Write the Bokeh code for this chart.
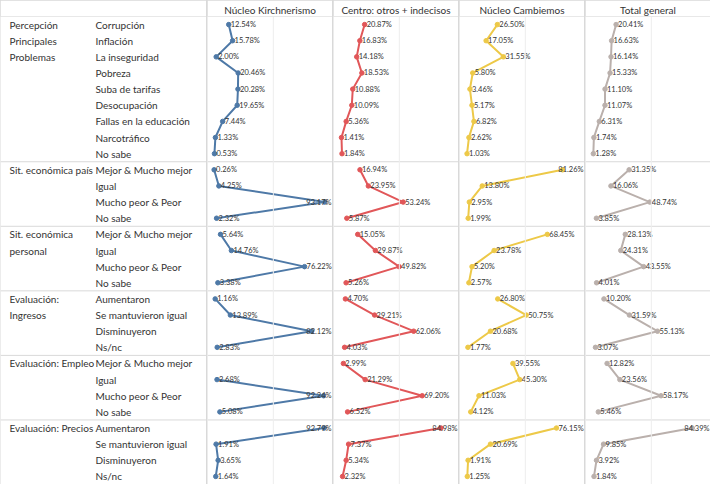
from bokeh.plotting import figure
from bokeh.models import FactorRange, Range1d, Span, ColumnDataSource
from bokeh.layouts import row
from bokeh.embed import file_html
from bokeh.resources import INLINE
from bokeh.core.properties import value

# ---------------- data ----------------
columns = ["Núcleo Kirchnerismo", "Centro: otros + indecisos", "Núcleo Cambiemos", "Total general"]
colors = ["#4e79a7", "#e15759", "#edc948", "#bab0ac"]

groups = ["Percepción Principales Problemas", "Sit. económica país", "Sit. económica personal",
          "Evaluación: Ingresos", "Evaluación: Empleo", "Evaluación: Precios"]
group_label_lines = [["Percepción", "Principales", "Problemas"], ["Sit. económica país"],
                     ["Sit. económica", "personal"], ["Evaluación:", "Ingresos"],
                     ["Evaluación: Empleo"], ["Evaluación: Precios"]]

items_problemas = ["Corrupción", "Inflación", "La inseguridad", "Pobreza", "Suba de tarifas",
                   "Desocupación", "Fallas en la educación", "Narcotráfico", "No sabe"]
items_situacion = ["Mejor & Mucho mejor", "Igual", "Mucho peor & Peor", "No sabe"]
items_evaluacion = ["Aumentaron", "Se mantuvieron igual", "Disminuyeron", "Ns/nc"]
group_items = [items_problemas, items_situacion, items_situacion,
               items_evaluacion, items_situacion, items_evaluacion]

kirchnerismo = [[12.54, 15.78, 2.00, 20.46, 20.28, 19.65, 7.44, 1.33, 0.53],
                [0.26, 4.25, 93.17, 2.32],
                [5.64, 14.76, 76.22, 3.38],
                [1.16, 13.89, 82.12, 2.83],
                [None, 2.68, 92.24, 5.08],
                [92.79, 1.91, 3.65, 1.64]]
centro = [[20.87, 16.83, 14.18, 18.53, 10.88, 10.09, 5.36, 1.41, 1.84],
          [16.94, 23.95, 53.24, 5.87],
          [15.05, 29.87, 49.82, 5.26],
          [4.70, 29.21, 62.06, 4.03],
          [2.99, 21.29, 69.20, 6.52],
          [84.98, 7.37, 5.34, 2.32]]
cambiemos = [[26.50, 17.05, 31.55, 5.80, 3.46, 5.17, 6.82, 2.62, 1.03],
             [81.26, 13.80, 2.95, 1.99],
             [68.45, 23.78, 5.20, 2.57],
             [26.80, 50.75, 20.68, 1.77],
             [39.55, 45.30, 11.03, 4.12],
             [76.15, 20.69, 1.91, 1.25]]
total = [[20.41, 16.63, 16.14, 15.33, 11.10, 11.07, 6.31, 1.74, 1.28],
         [31.35, 16.06, 48.74, 3.85],
         [28.13, 24.31, 43.55, 4.01],
         [10.20, 31.59, 55.13, 3.07],
         [12.82, 23.56, 58.17, 5.46],
         [84.39, 9.85, 3.92, 1.84]]
series = [kirchnerismo, centro, cambiemos, total]

# ---------------- layout constants ----------------
FONT = value("Lato")
TEXT = "#333333"
LINE = "#d9d9d9"
HEADER = 14
H = 484
LABEL_W = 206
PANEL_W = 125
X0, X1 = -5.3, 99.7
MAIN_FS = "10px"
VAL_FS = "7.5px"

factors = [(g, it) for g, its in zip(groups, group_items) for it in its]
y_range = FactorRange(factors=list(reversed(factors)), group_padding=0,
                      factor_padding=0, range_padding=0)

# separators (synthetic categorical coordinates, from group sizes)
sizes = [len(its) for its in reversed(group_items)]
bounds = []
acc = 0
for s in sizes:
    acc += s
    bounds.append(acc)


def base_fig(width, title=None):
    p = figure(width=width, height=H, y_range=y_range, output_backend="svg",
               toolbar_location=None, x_axis_location=None, y_axis_location=None,
               min_border=0, min_border_top=HEADER, outline_line_color=None,
               title=title)
    p.grid.grid_line_color = None
    p.background_fill_color = "white"
    p.border_fill_color = "white"
    for b in bounds:
        p.add_layout(Span(location=b, dimension="width", line_color=LINE, line_width=1))
    return p


# ---------------- label column ----------------
lab = base_fig(LABEL_W)
lab.x_range = Range1d(0, LABEL_W)
gy, gt = [], []
for g, its, lines in zip(groups, group_items, group_label_lines):
    for it, ln in zip(its, lines):
        gy.append((g, it))
        gt.append(ln)
lab.text(x=9, y=gy, text=gt, text_font=FONT, text_font_size=MAIN_FS,
         text_color=TEXT, text_baseline="middle", text_align="left")
lab.text(x=95, y=factors, text=[f[1] for f in factors], text_font=FONT,
         text_font_size=MAIN_FS, text_color=TEXT, text_baseline="middle", text_align="left")

children = [lab]

# ---------------- panels ----------------
EDGE = X1 - 23  # labels beyond this are pulled inside the pane
for col, vals_groups, color in zip(columns, series, colors):
    p = base_fig(PANEL_W, title=col)
    p.x_range = Range1d(X0, X1)
    p.title.align = "center"
    p.title.text_font = "Lato"
    p.title.text_font_size = MAIN_FS
    p.title.text_font_style = "normal"
    p.title.text_color = TEXT
    p.title.standoff = 2
    p.add_layout(Span(location=50, dimension="height", line_color="#ededed", line_width=1))
    for g, its, vals in zip(groups, group_items, vals_groups):
        xs = [v for v in vals if v is not None]
        ys = [(g, it) for it, v in zip(its, vals) if v is not None]
        src = ColumnDataSource(dict(x=xs, y=ys))
        p.line("x", "y", source=src, line_color=color, line_width=2)
        p.scatter("x", "y", source=src, size=4.5, fill_color=color, line_color=color)
        lx = [v for v in xs if v <= EDGE]
        ly = [y for v, y in zip(xs, ys) if v <= EDGE]
        p.text(x=lx, y=ly, text=[f"{v:.2f}%" for v in lx], x_offset=2,
               text_font=FONT, text_font_size=VAL_FS, text_color=TEXT,
               text_baseline="middle", text_align="left")
        rx = [v for v in xs if v > EDGE]
        ry = [y for v, y in zip(xs, ys) if v > EDGE]
        if rx:
            p.text(x=[X1] * len(rx), y=ry, text=[f"{v:.2f}%" for v in rx], x_offset=-1,
                   text_font=FONT, text_font_size=VAL_FS, text_color=TEXT,
                   text_baseline="middle", text_align="right")
    children.append(p)

layout = row(children, spacing=1, styles={"background-color": LINE})

with open("out.html", "w") as f:
    f.write(file_html(layout, INLINE))
